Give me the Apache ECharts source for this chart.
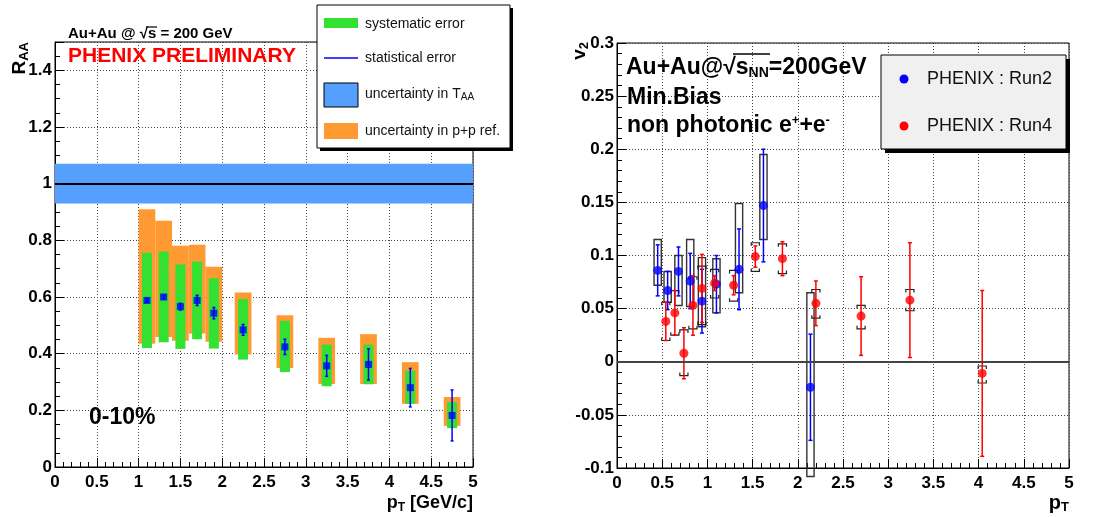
<!DOCTYPE html>
<html>
<head>
<meta charset="utf-8">
<script src="https://cdn.jsdelivr.net/npm/echarts@6/dist/echarts.min.js"></script>
<style>
html, body { margin: 0; padding: 0; background: #fff; }
#chart { width: 1096px; height: 517px; }
</style>
</head>
<body>
<div id="chart"></div>
<script>
// ---- left panel: R_AA, 0-10% central ----
const raaPt   = [1.1, 1.3, 1.5, 1.7, 1.9, 2.25, 2.75, 3.25, 3.75, 4.25, 4.75];
const raaVal  = [0.588, 0.600, 0.566, 0.588, 0.543, 0.484, 0.424, 0.357, 0.362, 0.280, 0.182];
const raaStat = [0.006, 0.006, 0.012, 0.018, 0.020, 0.019, 0.027, 0.037, 0.055, 0.068, 0.090];
const raaSysLo = [0.420, 0.440, 0.417, 0.451, 0.418, 0.379, 0.335, 0.285, 0.292, 0.223, 0.137];
const raaSysHi = [0.756, 0.761, 0.715, 0.725, 0.666, 0.593, 0.516, 0.432, 0.432, 0.340, 0.229];
const ppRefLo  = [0.435, 0.459, 0.446, 0.471, 0.442, 0.397, 0.349, 0.293, 0.293, 0.223, 0.145];
const ppRefHi  = [0.910, 0.869, 0.781, 0.784, 0.707, 0.616, 0.536, 0.456, 0.469, 0.370, 0.247];
const taaLo = 0.93, taaHi = 1.07;
const raaRef = 1;

// ---- right panel: v2 of non photonic electrons ----
const run2Pt    = [0.45, 0.56, 0.68, 0.81, 0.94, 1.10, 1.35, 1.62, 2.14];
const run2V2    = [0.086, 0.067, 0.085, 0.076, 0.057, 0.073, 0.087, 0.147, -0.024];
const run2Stat  = [0.024, 0.018, 0.023, 0.026, 0.030, 0.027, 0.038, 0.053, 0.050];
const run2SysLo = [0.072, 0.056, 0.053, 0.052, 0.033, 0.046, 0.065, 0.115, -0.108];
const run2SysHi = [0.115, 0.085, 0.100, 0.115, 0.098, 0.097, 0.149, 0.195, 0.065];

const run4Pt    = [0.54, 0.64, 0.74, 0.84, 0.94, 1.08, 1.29, 1.53, 1.83, 2.20, 2.70, 3.24, 4.04];
const run4V2    = [0.038, 0.046, 0.008, 0.053, 0.069, 0.074, 0.072, 0.099, 0.097, 0.055, 0.043, 0.058, -0.011];
const run4Stat  = [0.018, 0.021, 0.024, 0.028, 0.032, 0.007, 0.009, 0.010, 0.016, 0.021, 0.037, 0.054, 0.078];
const run4SysLo = [0.020, 0.025, -0.013, 0.031, 0.035, 0.060, 0.057, 0.085, 0.083, 0.041, 0.031, 0.048, -0.020];
const run4SysHi = [0.056, 0.067, 0.030, 0.080, 0.090, 0.087, 0.086, 0.112, 0.111, 0.068, 0.053, 0.068, -0.004];
const v2Ref = 0;

const FONT = '"Liberation Sans", Arial, Helvetica, sans-serif';
const GREEN = '#33e133', ORANGE = '#ff9a33', BAND = '#55a0ff';

const zip = (...cols) => cols[0].map((_, i) => cols.map(c => c[i]));

function boxItem(halfW, style) {
    return function (params, api) {
        const x = api.value(0), lo = api.value(1), hi = api.value(2);
        const a = api.coord([x - halfW, hi]);
        const b = api.coord([x + halfW, lo]);
        return { type: 'rect', shape: { x: a[0], y: a[1], width: b[0] - a[0], height: b[1] - a[1] }, style: style };
    };
}

function errItem(color, cap) {
    return function (params, api) {
        const x = api.value(0), y = api.value(1), e = api.value(2);
        const t = api.coord([x, y + e]), b = api.coord([x, y - e]);
        const st = { stroke: color, lineWidth: 1.5 };
        return { type: 'group', children: [
            { type: 'line', shape: { x1: t[0], y1: t[1], x2: b[0], y2: b[1] }, style: st },
            { type: 'line', shape: { x1: t[0] - cap, y1: t[1], x2: t[0] + cap, y2: t[1] }, style: st },
            { type: 'line', shape: { x1: b[0] - cap, y1: b[1], x2: b[0] + cap, y2: b[1] }, style: st }
        ] };
    };
}

function bracketItem(halfW) {
    return function (params, api) {
        const x = api.value(0), lo = api.value(1), hi = api.value(2);
        const a = api.coord([x - halfW, hi]), b = api.coord([x + halfW, lo]);
        const t = 3;
        const st = { stroke: '#222', fill: null, lineWidth: 1.2 };
        return { type: 'group', children: [
            { type: 'polyline', shape: { points: [[a[0], a[1] + t], [a[0], a[1]], [b[0], a[1]], [b[0], a[1] + t]] }, style: st },
            { type: 'polyline', shape: { points: [[a[0], b[1] - t], [a[0], b[1]], [b[0], b[1]], [b[0], b[1] - t]] }, style: st }
        ] };
    };
}

function xAxisCfg(idx) {
    return {
        gridIndex: idx, type: 'value', min: 0, max: 5, interval: 0.5,
        axisLine: { show: true, onZero: false, lineStyle: { color: '#000', width: 1 } },
        axisTick: { show: true, inside: true, length: 9, lineStyle: { color: '#000' } },
        minorTick: { show: true, splitNumber: 5, length: 5, lineStyle: { color: '#000' } },
        splitLine: { show: true, lineStyle: { color: '#444', type: [1, 2], width: 1 } },
        axisLabel: { color: '#000', fontFamily: FONT, fontWeight: 'bold', fontSize: 17, margin: 7 }
    };
}

function yAxisCfg(idx, min, max, interval, minor) {
    return {
        gridIndex: idx, type: 'value', min: min, max: max, interval: interval,
        axisLine: { show: true, onZero: false, lineStyle: { color: '#000', width: 1 } },
        axisTick: { show: true, inside: true, length: 9, lineStyle: { color: '#000' } },
        minorTick: { show: true, splitNumber: minor, length: 5, lineStyle: { color: '#000' } },
        splitLine: { show: true, lineStyle: { color: '#444', type: [1, 2], width: 1 } },
        axisLabel: { color: '#000', fontFamily: FONT, fontWeight: 'bold', fontSize: 17, margin: 3 }
    };
}

const yLeft = yAxisCfg(0, 0, 1.5, 0.2, 4);
yLeft.axisLabel.showMaxLabel = false;

const chart = echarts.init(document.getElementById('chart'));

const option = {
    animation: false,
    backgroundColor: '#fff',
    grid: [
        { left: 55, top: 42, width: 418, height: 425, show: true, borderColor: '#000', borderWidth: 1, backgroundColor: 'transparent' },
        { left: 617, top: 43, width: 452, height: 425, show: true, borderColor: '#000', borderWidth: 1, backgroundColor: 'transparent' }
    ],
    xAxis: [xAxisCfg(0), xAxisCfg(1)],
    yAxis: [yLeft, yAxisCfg(1, -0.1, 0.3, 0.05, 5)],
    series: [
        // T_AA band
        {
            type: 'custom', xAxisIndex: 0, yAxisIndex: 0, z: 2,
            data: [[2.5, taaLo, taaHi]],
            renderItem: boxItem(2.5, { fill: BAND })
        },
        {
            type: 'line', xAxisIndex: 0, yAxisIndex: 0, data: [], z: 3,
            markLine: { silent: true, symbol: 'none', label: { show: false },
                lineStyle: { color: '#000', width: 2, type: 'solid' }, data: [{ yAxis: raaRef }] }
        },
        // p+p reference uncertainty
        {
            type: 'custom', xAxisIndex: 0, yAxisIndex: 0, z: 4,
            data: zip(raaPt, ppRefLo, ppRefHi),
            renderItem: boxItem(0.1, { fill: ORANGE })
        },
        // systematic error
        {
            type: 'custom', xAxisIndex: 0, yAxisIndex: 0, z: 5,
            data: zip(raaPt, raaSysLo, raaSysHi),
            renderItem: boxItem(0.06, { fill: GREEN })
        },
        // statistical error
        {
            type: 'custom', xAxisIndex: 0, yAxisIndex: 0, z: 6,
            data: zip(raaPt, raaVal, raaStat),
            renderItem: errItem('#0000ff', 1.5)
        },
        {
            type: 'scatter', xAxisIndex: 0, yAxisIndex: 0, z: 7,
            symbol: 'rect', symbolSize: 7, itemStyle: { color: '#0000ff' },
            data: zip(raaPt, raaVal)
        },

        // right panel
        {
            type: 'line', xAxisIndex: 1, yAxisIndex: 1, data: [], z: 2,
            markLine: { silent: true, symbol: 'none', label: { show: false },
                lineStyle: { color: '#444', width: 2, type: 'solid' }, data: [{ yAxis: v2Ref }] }
        },
        {
            type: 'custom', xAxisIndex: 1, yAxisIndex: 1, z: 3,
            data: zip(run2Pt, run2SysLo, run2SysHi),
            renderItem: boxItem(0.04, { fill: null, stroke: '#333', lineWidth: 1.4 })
        },
        {
            type: 'custom', xAxisIndex: 1, yAxisIndex: 1, z: 3,
            data: zip(run4Pt, run4SysLo, run4SysHi),
            renderItem: bracketItem(0.045)
        },
        {
            type: 'custom', xAxisIndex: 1, yAxisIndex: 1, z: 4,
            data: zip(run2Pt, run2V2, run2Stat),
            renderItem: errItem('#0000ff', 2)
        },
        {
            type: 'custom', xAxisIndex: 1, yAxisIndex: 1, z: 4,
            data: zip(run4Pt, run4V2, run4Stat),
            renderItem: errItem('#ff0000', 2)
        },
        {
            type: 'scatter', xAxisIndex: 1, yAxisIndex: 1, z: 5,
            symbol: 'circle', symbolSize: 9, itemStyle: { color: '#0000ff' },
            data: zip(run2Pt, run2V2)
        },
        {
            type: 'scatter', xAxisIndex: 1, yAxisIndex: 1, z: 5,
            symbol: 'circle', symbolSize: 9, itemStyle: { color: '#ff0000' },
            data: zip(run4Pt, run4V2)
        }
    ],
    graphic: [
        // left panel labels
        { type: 'text', x: 68, y: 34, z: 20, style: { text: 'Au+Au @ √s = 200 GeV', font: 'bold 15px ' + FONT, fill: '#000', verticalAlign: 'middle' } },
        { type: 'line', z: 20, shape: { x1: 146, y1: 27, x2: 157, y2: 27 }, style: { stroke: '#000', lineWidth: 1.2 } },
        { type: 'text', x: 68, y: 56, z: 20, style: { text: 'PHENIX PRELIMINARY', font: 'bold 21px ' + FONT, fill: '#ff0000', verticalAlign: 'middle' } },
        { type: 'text', x: 89, y: 418, z: 20, style: { text: '0-10%', font: 'bold 23px ' + FONT, fill: '#000', verticalAlign: 'middle' } },
        { type: 'text', x: 473, y: 503, z: 20, style: {
            text: '{m|p}{s|T}{m| [GeV/c]}', align: 'right', verticalAlign: 'middle',
            rich: { m: { fontFamily: FONT, fontWeight: 'bold', fontSize: 18 }, s: { fontFamily: FONT, fontWeight: 'bold', fontSize: 12, padding: [9, 0, 0, 0] } }
        } },
        { type: 'text', x: 20, y: 42, rotation: Math.PI / 2, z: 20, style: {
            text: '{m|R}{s|AA}', align: 'right', verticalAlign: 'middle',
            rich: { m: { fontFamily: FONT, fontWeight: 'bold', fontSize: 19 }, s: { fontFamily: FONT, fontWeight: 'bold', fontSize: 13, padding: [9, 0, 0, 0] } }
        } },

        // left legend
        { type: 'rect', z: 20, shape: { x: 320, y: 8, width: 193, height: 143 }, style: { fill: '#000' } },
        { type: 'rect', z: 21, shape: { x: 317, y: 5, width: 193, height: 143 }, style: { fill: '#fff', stroke: '#000', lineWidth: 1 } },
        { type: 'rect', z: 22, shape: { x: 324, y: 18, width: 34, height: 10 }, style: { fill: GREEN } },
        { type: 'line', z: 22, shape: { x1: 324, y1: 58, x2: 358, y2: 58 }, style: { stroke: '#0000ff', lineWidth: 1.5 } },
        { type: 'rect', z: 22, shape: { x: 324, y: 83, width: 34, height: 24 }, style: { fill: BAND, stroke: '#000', lineWidth: 1 } },
        { type: 'rect', z: 22, shape: { x: 324, y: 123, width: 34, height: 16 }, style: { fill: ORANGE } },
        { type: 'text', x: 365, y: 24, z: 22, style: { text: 'systematic error', font: '14px ' + FONT, fill: '#111', verticalAlign: 'middle' } },
        { type: 'text', x: 365, y: 58, z: 22, style: { text: 'statistical error', font: '14px ' + FONT, fill: '#111', verticalAlign: 'middle' } },
        { type: 'text', x: 365, y: 94, z: 22, style: {
            text: '{m|uncertainty in T}{s|AA}', verticalAlign: 'middle', fill: '#111',
            rich: { m: { fontFamily: FONT, fontSize: 14, fill: '#111' }, s: { fontFamily: FONT, fontSize: 10, padding: [7, 0, 0, 0] } }
        } },
        { type: 'text', x: 365, y: 131, z: 22, style: { text: 'uncertainty in p+p ref.', font: '14px ' + FONT, fill: '#111', verticalAlign: 'middle' } },

        // right panel labels
        { type: 'text', x: 626, y: 68, z: 20, style: {
            text: '{m|Au+Au@√s}{s|NN}{m|=200GeV}', verticalAlign: 'middle',
            rich: { m: { fontFamily: FONT, fontWeight: 'bold', fontSize: 23 }, s: { fontFamily: FONT, fontWeight: 'bold', fontSize: 14, padding: [10, 0, 0, 0] } }
        } },
        { type: 'line', z: 20, shape: { x1: 733, y1: 54, x2: 770, y2: 54 }, style: { stroke: '#000', lineWidth: 1.5 } },
        { type: 'text', x: 627, y: 98, z: 20, style: { text: 'Min.Bias', font: 'bold 23px ' + FONT, fill: '#000', verticalAlign: 'middle' } },
        { type: 'text', x: 627, y: 126, z: 20, style: {
            text: '{m|non photonic e}{p|+}{m|+e}{p|-}', verticalAlign: 'middle',
            rich: { m: { fontFamily: FONT, fontWeight: 'bold', fontSize: 23 }, p: { fontFamily: FONT, fontWeight: 'bold', fontSize: 13, padding: [0, 0, 11, 0] } }
        } },
        { type: 'text', x: 1069, y: 503, z: 20, style: {
            text: '{m|p}{s|T}', align: 'right', verticalAlign: 'middle',
            rich: { m: { fontFamily: FONT, fontWeight: 'bold', fontSize: 20 }, s: { fontFamily: FONT, fontWeight: 'bold', fontSize: 13, padding: [9, 0, 0, 0] } }
        } },
        { type: 'text', x: 580, y: 42, rotation: Math.PI / 2, z: 20, style: {
            text: '{m|v}{s|2}', align: 'right', verticalAlign: 'middle',
            rich: { m: { fontFamily: FONT, fontWeight: 'bold', fontSize: 19 }, s: { fontFamily: FONT, fontWeight: 'bold', fontSize: 13, padding: [9, 0, 0, 0] } }
        } },

        // right legend
        { type: 'rect', z: 20, shape: { x: 885, y: 59, width: 185, height: 94 }, style: { fill: '#000' } },
        { type: 'rect', z: 21, shape: { x: 881, y: 55, width: 185, height: 94 }, style: { fill: '#f0f0f0', stroke: '#000', lineWidth: 1 } },
        { type: 'circle', z: 22, shape: { cx: 904, cy: 79, r: 4.5 }, style: { fill: '#0000ff' } },
        { type: 'circle', z: 22, shape: { cx: 904, cy: 126, r: 4.5 }, style: { fill: '#ff0000' } },
        { type: 'text', x: 927, y: 79, z: 22, style: { text: 'PHENIX : Run2', font: '18px ' + FONT, fill: '#111', verticalAlign: 'middle' } },
        { type: 'text', x: 927, y: 126, z: 22, style: { text: 'PHENIX : Run4', font: '18px ' + FONT, fill: '#111', verticalAlign: 'middle' } }
    ]
};

chart.setOption(option);
</script>
</body>
</html>
